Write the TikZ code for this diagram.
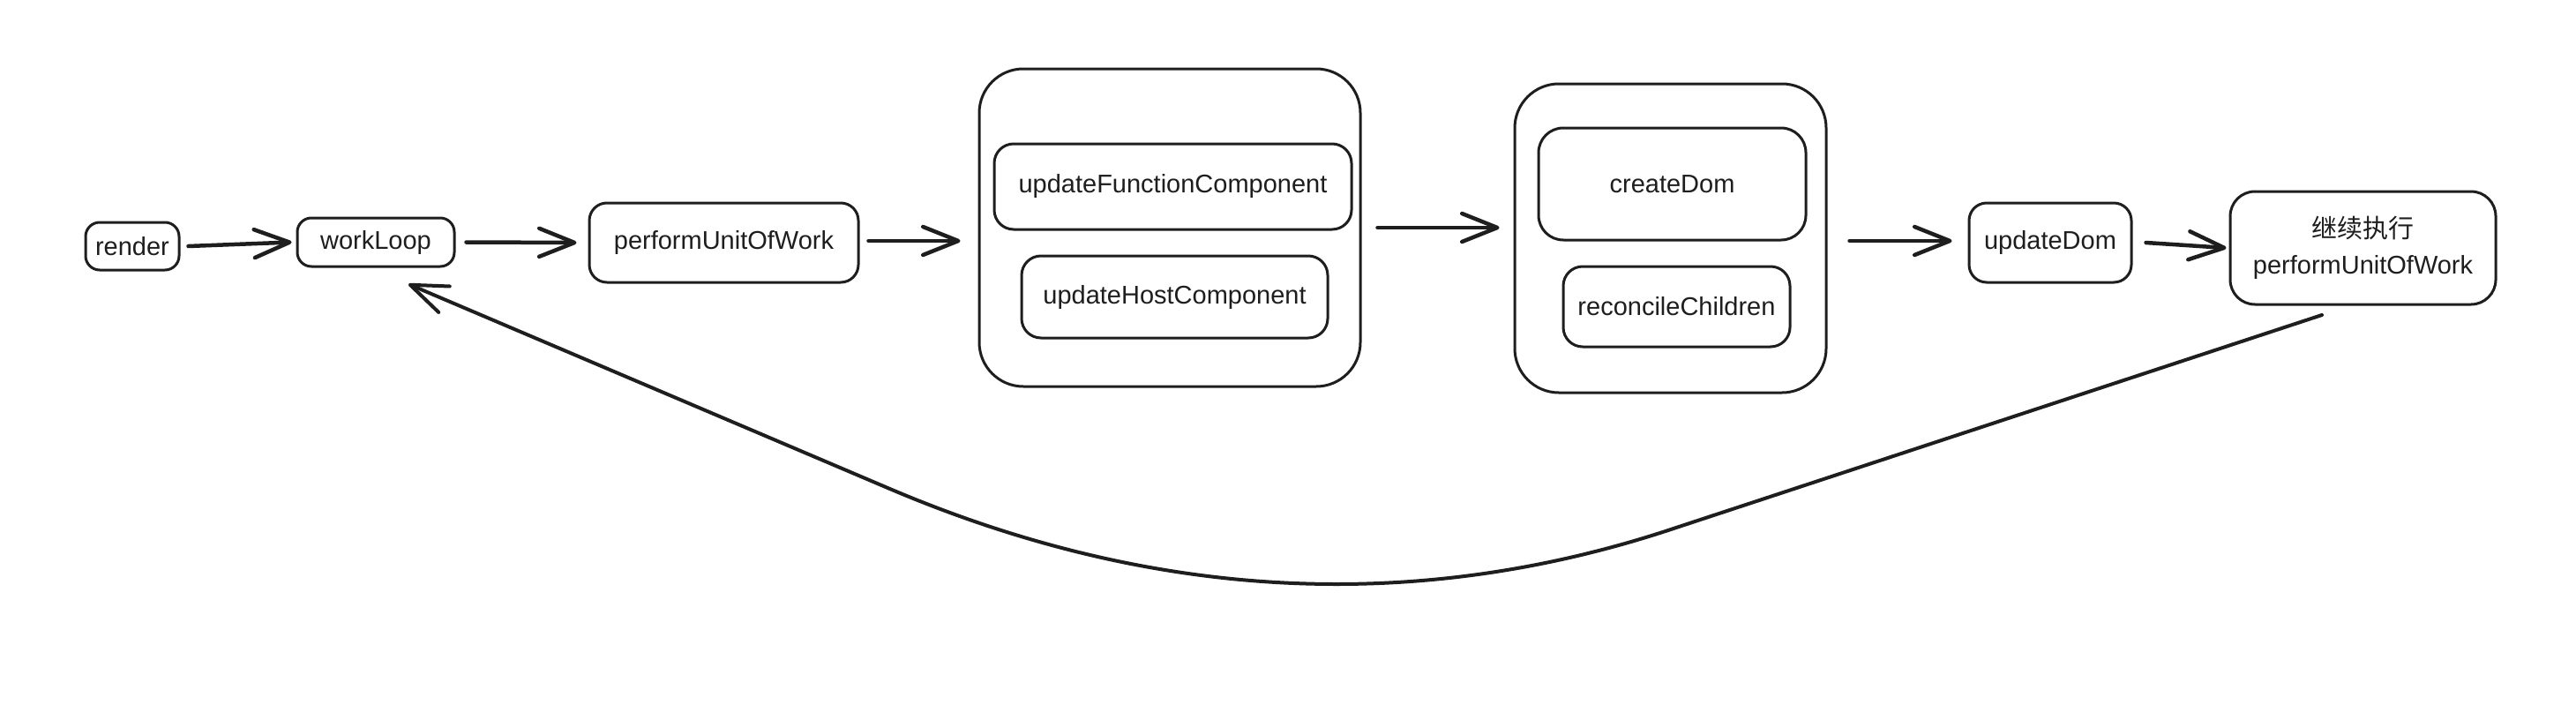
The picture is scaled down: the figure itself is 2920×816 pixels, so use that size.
\documentclass[tikz,border=0pt]{standalone}
\usepackage{fontspec}
\setmainfont{Liberation Sans}
\newfontfamily\cjk{Noto Sans CJK SC}
\usetikzlibrary{arrows.meta}
\definecolor{ink}{HTML}{1E1E1E}
\begin{document}
\begin{tikzpicture}[x=1pt,y=-1pt,
  box/.style={draw=ink, line width=3pt, rounded corners=#1, inner sep=0pt,
    text=ink, font=\fontsize{29}{41}\selectfont, align=center},
  box/.default=16pt,
  arr/.style={draw=ink, line width=4.5pt, line cap=round,
    -{Straight Barb[length=40pt,width=32pt,round]}},
  curvearr/.style={draw=ink, line width=4pt, line cap=round, line join=round,
    -{Straight Barb[length=42pt,width=32pt,round]}}]
\fill[white] (0,0) rectangle (2920,816);
\useasboundingbox (0,0) rectangle (2920,816);

\node[box, minimum width=106pt, minimum height=54pt] (render) at (150,279) {render};
\node[box, minimum width=178pt, minimum height=55pt] (workLoop) at (426,274.5) {workLoop};
\node[box=20pt, minimum width=305pt, minimum height=90pt] (perform) at (820.5,275) {performUnitOfWork};

\node[box=50pt, minimum width=432pt, minimum height=360pt] (box1) at (1326,258) {};
\node[box=22pt, minimum width=405pt, minimum height=97pt] (ufc) at (1329.5,211.5) {updateFunctionComponent};
\node[box=22pt, minimum width=347pt, minimum height=93pt] (uhc) at (1331.5,336.5) {updateHostComponent};

\node[box=50pt, minimum width=353pt, minimum height=350pt] (box2) at (1893.5,270) {};
\node[box=28pt, minimum width=303pt, minimum height=127pt] (cdom) at (1895.5,208.5) {createDom};
\node[box=22pt, minimum width=257pt, minimum height=91pt] (rec) at (1900.5,347.5) {reconcileChildren};

\node[box=20pt, minimum width=184pt, minimum height=90pt] (udom) at (2324,275) {updateDom};
\node[box=28pt, minimum width=301pt, minimum height=128pt] (fin) at (2678.5,281) {{\cjk 继续执行}\\performUnitOfWork};

\draw[arr] ([xshift=9pt]render.east) -- ([xshift=-5pt]workLoop.west);
\draw[arr] ([xshift=12pt]workLoop.east) -- ([xshift=-13pt]perform.west);
\draw[arr] ([xshift=10pt,yshift=2pt]perform.east) -- ([xshift=-20pt,yshift=2pt]perform.east -| box1.west);
\draw[arr] ([xshift=18pt]box1.east) -- ([xshift=-16pt]box1.east -| box2.west);
\draw[arr] ([xshift=25pt,yshift=2pt]udom.west -| box2.east) -- ([xshift=-18pt,yshift=2pt]udom.west);
\draw[arr] ([xshift=15pt]udom.east) -- ([xshift=-3pt]fin.west);

\coordinate (cs) at (2632,357);
\coordinate (ce) at (463,322);
\draw[curvearr] (cs) -- (1900,598) .. controls (1772,641) and (1643,662) .. (1515,662)
  .. controls (1347,662) and (1179,626) .. (1011,555) -- (ce);
\end{tikzpicture}
\end{document}
